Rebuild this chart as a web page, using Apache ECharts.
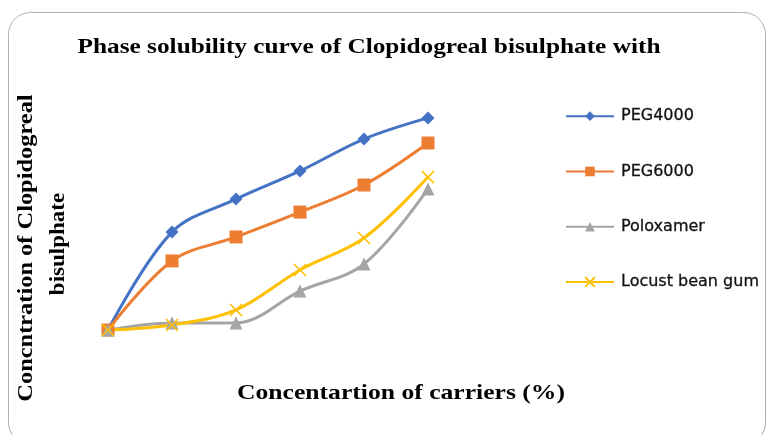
<!DOCTYPE html>
<html><head><meta charset="utf-8">
<script src="https://cdn.jsdelivr.net/npm/echarts@6/dist/echarts.min.js"></script>
<style>html,body{margin:0;padding:0;background:#fff}#c{width:767px;height:435px}</style>
</head><body><div id="c"></div>
<script>
const categories = ['0', '2', '4', '6', '8', '10'];
const peg4000 = [0, 4.45, 5.95, 7.23, 8.68, 9.64];
const peg6000 = [0, 3.14, 4.23, 5.36, 6.59, 8.5];
const poloxamer = [0, 0.32, 0.32, 1.77, 3.0, 6.41];
const locust = [0, 0.23, 0.91, 2.73, 4.18, 6.95];
const seriesNames = ['PEG4000', 'PEG6000', 'Poloxamer', 'Locust bean gum'];
const titleText = 'Phase solubility curve of Clopidogreal bisulphate with';
const xName = 'Concentartion of carriers (%)';
const yName1 = 'Concntration of Clopidogreal';
const yName2 = 'bisulphate';

const colors = ['#4472C4', '#ED7D31', '#A5A5A5', '#FFC000'];
const xPath = 'path://M0,0 L10,10 M10,0 L0,10';
const serif = '"Liberation Serif", "Times New Roman", serif';

const chart = echarts.init(document.getElementById('c'), null, {renderer: 'canvas'});
function mk(name, data, color, symbol, size, extra) {
  return Object.assign({
    name: name, type: 'line', data: data, smooth: 0.35,
    symbol: symbol, symbolSize: size, showSymbol: true,
    lineStyle: {color: color, width: 3},
    itemStyle: {color: color},
    emphasis: {disabled: true}
  }, extra || {});
}
chart.setOption({
  animation: false,
  legend: {
    orient: 'vertical', left: 565, top: 108, itemGap: 39, padding: 0,
    itemWidth: 48, itemHeight: 12,
    textStyle: {fontFamily: '"DejaVu Sans", sans-serif', fontSize: 16, lineHeight: 16, color: '#111', padding: [0, 0, 0, 2],
                textBorderColor: '#111', textBorderWidth: 0.3},
    data: seriesNames
  },
  grid: {left: 108, top: 110, width: 320, height: 220},
  xAxis: {
    type: 'category', data: categories, boundaryGap: false,
    axisLine: {show: false}, axisTick: {show: false}, axisLabel: {show: false}, splitLine: {show: false}
  },
  yAxis: {
    type: 'value', min: 0, max: 10,
    axisLine: {show: false}, axisTick: {show: false}, axisLabel: {show: false}, splitLine: {show: false}
  },
  graphic: [
    {type: 'rect', shape: {x: 8.5, y: 12.5, width: 757, height: 432, r: 22},
     style: {fill: 'none', stroke: '#b0b0b0', lineWidth: 1}, silent: true, z: -1},
    {type: 'text', x: 369, y: 47, scaleX: 1.15,
     style: {text: titleText, font: 'bold 22px ' + serif, fill: '#000', textAlign: 'center', textVerticalAlign: 'middle'}},
    {type: 'text', x: 401, y: 394, scaleX: 1.22,
     style: {text: xName, font: 'bold 21px ' + serif, fill: '#000', textAlign: 'center', textVerticalAlign: 'middle'}},
    {type: 'text', x: 27, y: 248, rotation: Math.PI / 2, scaleX: 1.22,
     style: {text: yName1, font: 'bold 20px ' + serif, fill: '#000', textAlign: 'center', textVerticalAlign: 'middle'}},
    {type: 'text', x: 59, y: 244, rotation: Math.PI / 2, scaleX: 1.15,
     style: {text: yName2, font: 'bold 20px ' + serif, fill: '#000', textAlign: 'center', textVerticalAlign: 'middle'}}
  ],
  series: [
    mk(seriesNames[0], peg4000, colors[0], 'diamond', 13),
    mk(seriesNames[1], peg6000, colors[1], 'rect', 13),
    mk(seriesNames[2], poloxamer, colors[2], 'triangle', 13),
    mk(seriesNames[3], locust, colors[3], xPath, 12, {itemStyle: {color: 'none', borderColor: colors[3], borderWidth: 1.5}})
  ]
});
</script></body></html>
